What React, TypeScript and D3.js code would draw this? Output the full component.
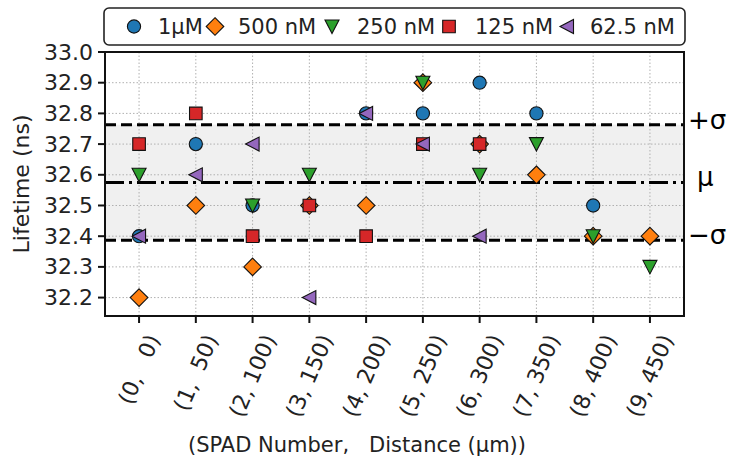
import React, { useEffect, useRef } from "react";
import * as d3 from "d3";

// SPAD positions along the array: (index, distance in µm)
const spadIndex = [0, 1, 2, 3, 4, 5, 6, 7, 8, 9];
const spadDistance = [0, 50, 100, 150, 200, 250, 300, 350, 400, 450];

// Measured lifetime (ns) per SPAD for each concentration; null = no point
const life1uM = [32.4, 32.7, 32.5, null, 32.8, 32.8, 32.9, 32.8, 32.5, null];
const life500nM = [32.2, 32.5, 32.3, 32.5, 32.5, 32.9, 32.7, 32.6, 32.4, 32.4];
const life250nM = [32.6, null, 32.5, 32.6, null, 32.9, 32.6, 32.7, 32.4, 32.3];
const life125nM = [32.7, 32.8, 32.4, 32.5, 32.4, 32.7, 32.7, null, null, null];
const life62nM = [32.4, 32.6, 32.7, 32.2, 32.8, 32.7, 32.4, null, null, null];

const seriesNames = ["1µM", "500 nM", "250 nM", "125 nM", "62.5 nM"];
const seriesColors = ["#1f77b4", "#ff7f0e", "#2ca02c", "#d62728", "#9467bd"];
const seriesMarkers = ["circle", "diamond", "triangleDown", "square", "triangleLeft"];
const seriesValues = [life1uM, life500nM, life250nM, life125nM, life62nM];

const yTicks = [32.2, 32.3, 32.4, 32.5, 32.6, 32.7, 32.8, 32.9, 33.0];

const W = 729;
const H = 460;
const FONT = "DejaVu Sans, sans-serif";

function markerPath(kind: string): string {
  switch (kind) {
    case "circle": {
      const p = d3.path();
      p.arc(0, 0, 6.6, 0, 2 * Math.PI);
      return p.toString();
    }
    case "diamond":
      return "M0,-8.8L8.8,0L0,8.8L-8.8,0Z";
    case "square":
      return "M-6.3,-6.3L6.3,-6.3L6.3,6.3L-6.3,6.3Z";
    case "triangleDown":
      return "M-7,-6.5L7,-6.5L0,7Z";
    case "triangleLeft":
      return "M-7,0L6.5,-7L6.5,7Z";
    default:
      return "";
  }
}

export default function App() {
  const ref = useRef<SVGSVGElement | null>(null);

  useEffect(() => {
    const svg = d3.select(ref.current);
    svg.selectAll("*").remove();

    const left = 105, right = 684, top = 52, bottom = 316;
    const x = d3.scaleLinear().domain([-0.6, 9.6]).range([left, right]);
    const y = d3.scaleLinear().domain([32.14, 33.0]).range([bottom, top]);

    // mean and population standard deviation over all measurements
    const all: number[] = [];
    seriesValues.forEach((s) => s.forEach((v) => { if (v != null) all.push(v); }));
    const mu = d3.mean(all) as number;
    const sigma = Math.sqrt(d3.mean(all, (v) => (v - mu) * (v - mu)) as number);

    const g = svg.append("g");

    // ±σ band
    g.append("rect")
      .attr("x", left).attr("y", y(mu + sigma))
      .attr("width", right - left).attr("height", y(mu - sigma) - y(mu + sigma))
      .attr("fill", "#f0f0f0");

    // dotted grid
    g.selectAll("line.gy").data(yTicks.slice(0, -1)).enter().append("line")
      .attr("x1", left).attr("x2", right)
      .attr("y1", (d) => y(d)).attr("y2", (d) => y(d))
      .attr("stroke", "#b0b0b0").attr("stroke-width", 1).attr("stroke-dasharray", "1.5,2");
    g.selectAll("line.gx").data(spadIndex).enter().append("line")
      .attr("x1", (d) => x(d)).attr("x2", (d) => x(d))
      .attr("y1", top).attr("y2", bottom)
      .attr("stroke", "#b0b0b0").attr("stroke-width", 1).attr("stroke-dasharray", "1.5,2");

    // reference lines with their labels outside the right edge
    const refLines = [
      { v: mu + sigma, dash: "11,5", label: "+σ", lx: 688 },
      { v: mu, dash: "19,5,3,5", label: "μ", lx: 697 },
      { v: mu - sigma, dash: "11,5", label: "−σ", lx: 688 },
    ];
    refLines.forEach((r) => {
      g.append("line")
        .attr("x1", left).attr("x2", right)
        .attr("y1", y(r.v)).attr("y2", y(r.v))
        .attr("stroke", "#000").attr("stroke-width", 3).attr("stroke-dasharray", r.dash);
      svg.append("text")
        .attr("x", r.lx).attr("y", y(r.v) - 5)
        .attr("dominant-baseline", "central")
        .attr("font-family", FONT).attr("font-size", 26).attr("fill", "#000")
        .text(r.label);
    });

    // markers
    seriesValues.forEach((vals, si) => {
      const path = markerPath(seriesMarkers[si]);
      vals.forEach((v, i) => {
        if (v == null) return;
        g.append("path")
          .attr("d", path)
          .attr("transform", `translate(${x(spadIndex[i])},${y(v)})`)
          .attr("fill", seriesColors[si])
          .attr("stroke", "#111").attr("stroke-width", 1.1);
      });
    });

    // frame
    g.append("rect")
      .attr("x", left).attr("y", top).attr("width", right - left).attr("height", bottom - top)
      .attr("fill", "none").attr("stroke", "#111").attr("stroke-width", 2);

    // y axis ticks and labels
    yTicks.forEach((t) => {
      g.append("line").attr("x1", left - 7).attr("x2", left)
        .attr("y1", y(t)).attr("y2", y(t)).attr("stroke", "#111").attr("stroke-width", 2);
      g.append("text").attr("x", left - 12).attr("y", y(t))
        .attr("text-anchor", "end").attr("dominant-baseline", "central")
        .attr("font-family", FONT).attr("font-size", 22).attr("fill", "#222")
        .text(d3.format(".1f")(t));
    });

    // x axis ticks and rotated labels
    const angle = 67;
    const rad = (angle * Math.PI) / 180;
    spadIndex.forEach((idx, i) => {
      const cx = x(idx);
      g.append("line").attr("x1", cx).attr("x2", cx)
        .attr("y1", bottom).attr("y2", bottom + 7).attr("stroke", "#111").attr("stroke-width", 2);
      const label = `(${idx}, ${String(spadDistance[i]).padStart(3, " ")})`;
      const t = g.append("text")
        .attr("text-anchor", "middle").attr("dominant-baseline", "central")
        .attr("font-family", FONT).attr("font-size", 22).attr("fill", "#222")
        .style("white-space", "pre")
        .text(label);
      const w = (t.node() as SVGTextElement).getComputedTextLength();
      const h = 19;
      const bh = w * Math.sin(rad) + h * Math.cos(rad);
      const cy = 332 + bh / 2;
      t.attr("transform", `translate(${cx},${cy}) rotate(${-angle})`);
    });

    // axis titles
    svg.append("text")
      .attr("x", 357).attr("y", 445)
      .attr("text-anchor", "middle").attr("dominant-baseline", "central")
      .attr("font-family", FONT).attr("font-size", 21).attr("fill", "#222")
      .style("white-space", "pre")
      .text("(SPAD Number,   Distance (µm))");
    svg.append("text")
      .attr("transform", `translate(21,${(top + bottom) / 2}) rotate(-90)`)
      .attr("text-anchor", "middle").attr("dominant-baseline", "central")
      .attr("font-family", FONT).attr("font-size", 22).attr("fill", "#222")
      .text("Lifetime (ns)");

    // legend
    const lg = svg.append("g");
    lg.append("rect")
      .attr("x", 104).attr("y", 8).attr("width", 581).attr("height", 37)
      .attr("rx", 5).attr("fill", "#fff").attr("stroke", "#222").attr("stroke-width", 1.6);
    const legendMarkerX = [134, 215, 332, 449, 567];
    const legendTextX = [158, 238, 357, 475, 590];
    seriesNames.forEach((name, si) => {
      lg.append("path")
        .attr("d", markerPath(seriesMarkers[si]))
        .attr("transform", `translate(${legendMarkerX[si]},26.5)`)
        .attr("fill", seriesColors[si]).attr("stroke", "#111").attr("stroke-width", 1.1);
      lg.append("text")
        .attr("x", legendTextX[si]).attr("y", 26.5)
        .attr("dominant-baseline", "central")
        .attr("font-family", FONT).attr("font-size", 21).attr("fill", "#222")
        .text(name);
    });
  }, []);

  return (
    <svg
      ref={ref}
      width={W}
      height={H}
      style={{ position: "absolute", left: 0, top: 0, display: "block", background: "#fff" }}
    />
  );
}
